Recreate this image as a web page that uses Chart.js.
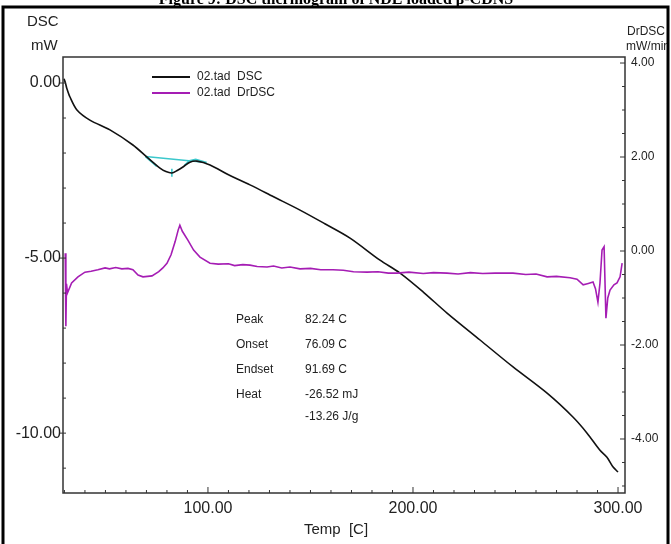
<!DOCTYPE html>
<html>
<head>
<meta charset="utf-8">
<script src="https://cdn.jsdelivr.net/npm/chart.js@4.4.1/dist/chart.umd.min.js"></script>
<style>
  body { margin: 0; background: #fff; }
  #wrap { width: 671px; height: 544px; }
</style>
</head>
<body>
<div id="wrap"><canvas id="chart" width="671" height="544"></canvas></div>
<script>
// DSC curve (left axis, mW) vs temperature
const dscTemp = [29.8, 30.5, 31.1, 32.7, 36.1, 42.4, 52.2, 63.4, 70.7, 76.6, 79.5, 82.4, 85, 87.8, 91.2, 94.6, 101.0, 110, 120.5, 132, 144.9, 157, 169.3, 183.9, 193.7, 205, 216.6, 232.7, 248.8, 265.4, 278.0, 284.9, 291.2, 294.6, 297.6, 300.0];
const dscVal  = [0.12, 0.0, -0.14, -0.40, -0.77, -1.06, -1.34, -1.77, -2.14, -2.43, -2.53, -2.57, -2.50, -2.40, -2.26, -2.23, -2.34, -2.62, -2.91, -3.25, -3.63, -4.02, -4.43, -5.06, -5.43, -5.97, -6.57, -7.34, -8.11, -8.86, -9.54, -10.00, -10.49, -10.69, -10.97, -11.11];

// DrDSC curve (right axis, mW/min)
const drTemp = [30.4, 30.7, 31.0, 31.5, 33.5, 36.6, 40.0, 43, 46.3, 49.8, 52, 55, 58.0, 61, 63.4, 65.9, 68.3, 72.7, 76, 78, 80.0, 82, 84, 85.5, 86.3, 87.5, 90.2, 93, 96.1, 101.0, 105, 110, 113, 117, 120.5, 124, 128.8, 132, 136, 140, 144.9, 150, 155, 161.0, 166, 171, 177.6, 183, 188, 192.2, 198, 205, 210, 216.6, 222, 228, 234, 240, 248.8, 255, 260, 265.4, 270, 276.6, 280, 283.0, 285.5, 287.8, 289, 290.2, 291.2, 292.2, 293.2, 294.1, 295, 296.1, 298, 299.5, 301, 302.0];
const drVal  = [-0.05, -1.60, -0.70, -0.89, -0.68, -0.55, -0.45, -0.43, -0.40, -0.36, -0.38, -0.35, -0.38, -0.37, -0.40, -0.51, -0.55, -0.53, -0.44, -0.36, -0.26, -0.08, 0.20, 0.45, 0.55, 0.42, 0.23, 0.02, -0.13, -0.26, -0.28, -0.27, -0.31, -0.29, -0.30, -0.33, -0.34, -0.32, -0.36, -0.34, -0.38, -0.37, -0.40, -0.40, -0.41, -0.44, -0.45, -0.44, -0.47, -0.47, -0.45, -0.48, -0.46, -0.47, -0.49, -0.46, -0.48, -0.47, -0.47, -0.50, -0.49, -0.55, -0.54, -0.57, -0.60, -0.72, -0.69, -0.66, -0.80, -1.09, -0.68, 0.02, 0.09, -1.43, -1.0, -0.83, -0.72, -0.68, -0.55, -0.26];

// peak analysis baseline (cyan), null breaks segments
const baseTemp = [69.5, 99.4, null, 69.5, 72.5, 75, null, 88.5, 91, 94, 99.4, null, 82.4, 82.4];
const baseVal  = [-2.10, -2.27, null, -2.10, -2.25, -2.38, null, -2.35, -2.22, -2.18, -2.27, null, -2.45, -2.68];

const xMajor = [100, 200, 300];
const peakRows = [["Peak", "82.24 C"], ["Onset", "76.09 C"], ["Endset", "91.69 C"], ["Heat", "-26.52 mJ"], ["", "-13.26 J/g"]];
const legendRows = [["02.tad  DSC", "#111"], ["02.tad  DrDSC", "#a51db4"]];

const pts = (xs, ys) => xs.map((x, i) => (x === null ? { x: NaN, y: null } : { x: x, y: ys[i] }));

const FONT = "'Liberation Sans', Arial, sans-serif";

const decor = {
  id: 'decor',
  afterDraw(chart) {
    const ctx = chart.ctx;
    const a = chart.chartArea;
    const sx = chart.scales.x, sl = chart.scales.y, sr = chart.scales.y1;
    ctx.save();
    // plot frame / axes
    ctx.strokeStyle = '#333';
    ctx.lineWidth = 1.5;
    ctx.strokeRect(a.left, a.top, a.right - a.left, a.bottom - a.top);

    // inward ticks
    ctx.lineWidth = 1;
    sx.ticks.forEach(t => {
      const p = sx.getPixelForValue(t.value);
      const len = t.value % 100 === 0 ? 6 : 3;
      ctx.beginPath(); ctx.moveTo(p, a.bottom); ctx.lineTo(p, a.bottom - len); ctx.stroke();
    });
    sl.ticks.forEach(t => {
      const p = sl.getPixelForValue(t.value);
      const major = Math.abs(t.value % 5) < 1e-6;
      ctx.beginPath(); ctx.moveTo(a.left - (major ? 3 : 0), p); ctx.lineTo(a.left + 3, p); ctx.stroke();
    });
    sr.ticks.forEach(t => {
      const p = sr.getPixelForValue(t.value);
      const major = Math.abs(t.value % 2) < 1e-6;
      ctx.beginPath(); ctx.moveTo(a.right - (major ? 5 : 3), p); ctx.lineTo(a.right, p); ctx.stroke();
    });

    // legend
    ctx.font = '12px ' + FONT;
    ctx.textBaseline = 'middle';
    legendRows.forEach((r, i) => {
      const y = 77 + i * 16;
      ctx.strokeStyle = r[1];
      ctx.lineWidth = 2;
      ctx.beginPath(); ctx.moveTo(152, y); ctx.lineTo(190, y); ctx.stroke();
      ctx.fillStyle = '#222';
      ctx.fillText(r[0], 197, y);
    });

    // peak analysis text
    peakRows.forEach((r, i) => {
      const y = i < 4 ? 320 + i * 25 : 417;
      ctx.fillText(r[0], 236, y);
      ctx.fillText(r[1], 305, y);
    });

    // axis titles
    ctx.fillStyle = '#222';
    ctx.font = '15px ' + FONT;
    ctx.fillText('DSC', 27, 22);
    ctx.fillText('mW', 31, 46);
    ctx.textAlign = 'center';
    ctx.fillText('Temp  [C]', 336, 530);
    ctx.textAlign = 'left';
    ctx.font = '12px ' + FONT;
    ctx.fillText('DrDSC', 627, 32);
    ctx.fillText('mW/min', 626, 47);

    // figure caption, clipped at the top edge
    ctx.font = "bold 16px 'Liberation Serif', 'Times New Roman', serif";
    ctx.textAlign = 'center';
    ctx.textBaseline = 'alphabetic';
    ctx.fillStyle = '#000';
    ctx.fillText('Figure 9: DSC thermogram of NDE loaded \u03B2-CDNS', 336, 4);

    // outer frame
    ctx.strokeStyle = '#000';
    ctx.lineWidth = 3;
    ctx.fillStyle = '#fff';
    ctx.fillRect(668, 0, 3, 544);
    ctx.beginPath();
    ctx.moveTo(3, 544); ctx.lineTo(3, 7); ctx.lineTo(668, 7); ctx.lineTo(668, 544);
    ctx.stroke();
    ctx.restore();
  }
};

new Chart(document.getElementById('chart'), {
  type: 'scatter',
  data: {
    datasets: [
      {
        label: 'DrDSC', data: pts(drTemp, drVal), yAxisID: 'y1',
        showLine: true, borderColor: '#a51db4', borderWidth: 1.6, pointRadius: 0, tension: 0
      },
      {
        label: 'DSC', data: pts(dscTemp, dscVal), yAxisID: 'y',
        showLine: true, borderColor: '#111', borderWidth: 1.6, pointRadius: 0, tension: 0.3
      },
      {
        label: 'baseline', data: pts(baseTemp, baseVal), yAxisID: 'y',
        showLine: true, spanGaps: false, borderColor: '#3cc8cc', borderWidth: 1.6, pointRadius: 0
      }
    ]
  },
  options: {
    responsive: false,
    animation: false,
    layout: { padding: { top: 57, left: 0, right: 0, bottom: 0 } },
    plugins: { legend: { display: false }, tooltip: { enabled: false } },
    scales: {
      x: {
        type: 'linear', min: 29.3, max: 303.4,
        grid: { display: false }, border: { display: false },
        ticks: {
          stepSize: 10, includeBounds: false, autoSkip: false, maxRotation: 0,
          padding: -2, color: '#222', font: { size: 16, family: FONT },
          callback: v => (xMajor.includes(v) ? v.toFixed(2) : '')
        },
        afterFit: s => { s.height = 51; }
      },
      y: {
        position: 'left', min: -11.71, max: 0.743,
        grid: { display: false }, border: { display: false },
        ticks: {
          stepSize: 1, includeBounds: false, autoSkip: false, padding: -6,
          color: '#222', font: { size: 16, family: FONT },
          callback: v => (Math.abs(v % 5) < 1e-6 ? v.toFixed(2) : '')
        },
        afterFit: s => { s.width = 63; }
      },
      y1: {
        position: 'right', min: -5.149, max: 4.128,
        grid: { display: false }, border: { display: false },
        ticks: {
          stepSize: 0.5, includeBounds: false, autoSkip: false, padding: -2,
          color: '#222', font: { size: 12, family: FONT },
          callback: v => (Math.abs(v % 2) < 1e-6 ? v.toFixed(2) : '')
        },
        afterFit: s => { s.width = 46; }
      }
    }
  },
  plugins: [decor]
});
</script>
</body>
</html>
